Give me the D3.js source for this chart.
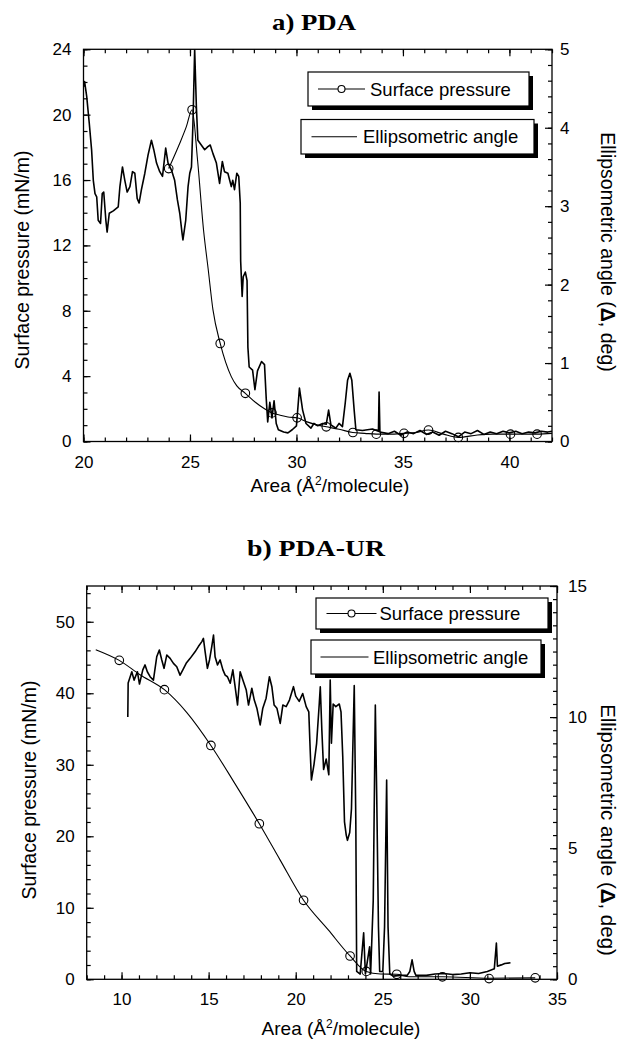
<!DOCTYPE html>
<html><head><meta charset="utf-8">
<script src="https://cdn.jsdelivr.net/npm/d3@7"></script>
<style>
body{margin:0;background:#fff}
svg{display:block}
</style></head><body>
<svg id="chart" width="623" height="1043"></svg>
<script>
// ---------- DATA ----------
const titles = ["a) PDA", "b) PDA-UR"];
const legendLabels = ["Surface pressure", "Ellipsometric angle"];
const xAxisTitle = ["Area (Å", "2", "/molecule)"];
const leftAxisTitle = "Surface pressure (mN/m)";
const rightAxisTitle = ["Ellipsometric angle (", "Δ", ", deg)"];

// panel a) PDA : area (Å²/molecule), pressure (mN/m), ellipsometric angle (deg)
const pdaXTicks = [20, 25, 30, 35, 40];
const pdaLeftTicks = [0, 4, 8, 12, 16, 20, 24];
const pdaRightTicks = [0, 1, 2, 3, 4, 5];
const pdaPressureCurve = [[24.0,16.7],[24.52,18.25],[24.83,19.27],[25.1,20.3],[25.35,17.3],[25.64,12.9],[25.85,10.6],[26.08,8.05],[26.42,6.0],[26.94,3.97],[27.2,3.4],[27.6,2.95],[28.07,2.4],[28.5,2.0],[28.85,1.75],[29.2,1.62],[29.6,1.5],[30.03,1.45],[30.5,1.2],[31.0,1.0],[31.4,0.9],[32.0,0.75],[32.65,0.55],[33.2,0.5],[33.75,0.45],[34.4,0.45],[35.05,0.5],[35.6,0.55],[36.2,0.7],[36.9,0.45],[37.6,0.25],[38.5,0.4],[39.2,0.45],[40.05,0.45],[40.7,0.45],[41.3,0.45],[42.0,0.5]];
const pdaPressureMarkers = [[24.0,16.7],[25.1,20.3],[26.42,6.0],[27.6,2.95],[28.85,1.75],[30.03,1.45],[31.4,0.9],[32.65,0.55],[33.75,0.45],[35.05,0.5],[36.2,0.7],[37.6,0.25],[40.05,0.45],[41.3,0.45]];
const pdaEllipso = [[20.0,4.52],[20.05,4.59],[20.15,4.40],[20.27,4.06],[20.38,3.72],[20.46,3.33],[20.54,3.16],[20.62,3.12],[20.69,2.82],[20.8,2.78],[20.88,3.16],[20.95,3.18],[21.05,2.82],[21.11,2.67],[21.21,2.91],[21.4,2.94],[21.63,2.99],[21.71,3.25],[21.83,3.50],[21.94,3.33],[22.05,3.18],[22.18,3.25],[22.3,3.44],[22.41,3.42],[22.52,3.10],[22.61,3.04],[22.72,3.21],[22.88,3.42],[23.03,3.65],[23.19,3.84],[23.3,3.72],[23.43,3.55],[23.58,3.44],[23.71,3.38],[23.86,3.74],[23.97,3.55],[24.13,3.46],[24.28,3.33],[24.41,3.08],[24.52,2.91],[24.63,2.65],[24.67,2.57],[24.8,2.82],[24.91,3.25],[24.99,3.42],[25.07,3.50],[25.14,4.06],[25.22,5.0],[25.3,4.27],[25.37,3.84],[25.53,3.78],[25.69,3.72],[25.84,3.76],[25.95,3.78],[26.08,3.67],[26.24,3.55],[26.39,3.29],[26.52,3.57],[26.62,3.44],[26.78,3.42],[26.94,3.25],[27.01,3.33],[27.09,3.21],[27.2,3.42],[27.29,3.38],[27.36,3.04],[27.38,2.3],[27.45,1.85],[27.5,2.1],[27.6,2.16],[27.68,2.05],[27.72,1.2],[27.78,0.95],[27.94,0.91],[28.05,0.66],[28.17,0.9],[28.36,1.02],[28.5,0.98],[28.58,0.55],[28.65,0.25],[28.75,0.5],[28.85,0.3],[28.95,0.52],[29.05,0.23],[29.15,0.15],[29.4,0.12],[29.6,0.11],[29.8,0.15],[30.0,0.2],[30.14,0.68],[30.29,0.40],[30.45,0.23],[30.68,0.17],[30.82,0.23],[31.0,0.2],[31.23,0.23],[31.4,0.22],[31.51,0.40],[31.62,0.21],[31.85,0.17],[32.0,0.23],[32.16,0.19],[32.29,0.49],[32.4,0.78],[32.51,0.87],[32.6,0.78],[32.71,0.40],[32.79,0.15],[33.1,0.14],[33.57,0.16],[33.85,0.13],[33.88,0.63],[33.92,0.12],[34.3,0.1],[34.6,0.13],[34.9,0.08],[35.2,0.12],[35.5,0.1],[35.8,0.14],[36.1,0.09],[36.4,0.12],[36.7,0.08],[37.0,0.13],[37.3,0.1],[37.6,0.06],[37.9,0.12],[38.2,0.1],[38.5,0.14],[38.8,0.09],[39.1,0.12],[39.4,0.1],[39.7,0.13],[40.0,0.11],[40.3,0.13],[40.6,0.1],[40.9,0.12],[41.2,0.11],[41.5,0.13],[41.8,0.12],[42.0,0.13]];

// panel b) PDA-UR
const urXTicks = [10, 15, 20, 25, 30, 35];
const urLeftTicks = [0, 10, 20, 30, 40, 50];
const urRightTicks = [0, 5, 10, 15];
const urPressureCurve = [[8.52,46.1],[9.87,44.6],[11.06,42.6],[12.46,40.5],[13.75,37.3],[15.13,32.7],[16.5,27.4],[17.91,21.75],[19.1,16.7],[20.45,11.05],[21.87,6.9],[23.12,3.26],[24.05,1.1],[24.86,0.75],[25.8,0.7],[26.5,0.35],[28.42,0.35],[31.1,0.15],[33.75,0.2]];
const urPressureMarkers = [[9.87,44.6],[12.46,40.5],[15.13,32.7],[17.91,21.75],[20.45,11.05],[23.12,3.26],[24.05,1.1],[25.8,0.7],[28.42,0.35],[31.1,0.1],[33.75,0.2]];
const urEllipso = [[10.36,10.0],[10.38,11.3],[10.59,11.73],[10.72,11.41],[10.91,11.73],[11.03,11.26],[11.22,11.8],[11.35,11.99],[11.48,11.73],[11.64,11.54],[11.83,11.41],[12.02,12.3],[12.17,12.56],[12.31,12.18],[12.44,11.86],[12.6,12.37],[12.79,12.24],[12.98,12.05],[13.17,11.92],[13.36,11.6],[13.52,11.8],[13.71,12.05],[13.94,12.24],[14.22,12.49],[14.41,12.69],[14.61,12.88],[14.7,13.0],[14.8,12.49],[14.93,11.86],[15.05,12.18],[15.18,12.69],[15.28,13.13],[15.37,12.3],[15.51,11.99],[15.66,12.18],[15.82,11.8],[15.95,11.6],[16.08,11.54],[16.24,11.29],[16.39,11.8],[16.52,11.16],[16.66,10.46],[16.81,11.73],[16.97,11.41],[17.16,11.03],[17.29,10.46],[17.48,11.1],[17.62,10.65],[17.77,10.34],[17.96,9.7],[18.11,10.34],[18.3,10.72],[18.49,11.54],[18.63,11.16],[18.76,10.46],[18.92,10.34],[19.11,9.76],[19.26,10.46],[19.45,10.4],[19.64,10.65],[19.87,11.16],[20.0,10.8],[20.2,10.6],[20.4,10.9],[20.6,10.4],[20.75,10.2],[20.83,8.75],[20.9,7.6],[21.05,8.2],[21.2,9.0],[21.35,10.5],[21.41,11.16],[21.5,9.5],[21.6,8.0],[21.75,8.4],[21.9,7.8],[21.98,11.41],[22.05,9.0],[22.15,10.5],[22.3,10.4],[22.5,10.5],[22.6,10.2],[22.7,8.5],[22.8,6.0],[22.9,5.5],[22.97,5.3],[23.1,5.6],[23.2,6.5],[23.36,11.2],[23.45,6.0],[23.5,0.3],[23.7,0.2],[23.9,1.77],[24.0,0.2],[24.24,1.24],[24.3,0.2],[24.45,3.0],[24.57,10.46],[24.65,7.0],[24.75,2.0],[24.82,0.3],[25.0,0.3],[25.1,2.0],[25.22,7.6],[25.3,2.0],[25.4,0.2],[25.6,0.12],[26.0,0.15],[26.4,0.15],[26.55,0.3],[26.68,0.74],[26.8,0.3],[26.9,0.15],[27.5,0.15],[28.0,0.2],[28.5,0.22],[29.0,0.18],[29.5,0.2],[30.0,0.25],[30.5,0.22],[31.0,0.3],[31.4,0.4],[31.52,1.38],[31.58,0.5],[31.8,0.55],[32.0,0.6],[32.33,0.63]];

// ---------- DRAW ----------
const svg = d3.select("#chart");
const SANS = "'Liberation Sans', Arial, sans-serif";
const SERIF = "'Liberation Serif', 'Times New Roman', serif";

function panel(cfg, idx) {
  const x = d3.scaleLinear().domain(cfg.xDomain).range([cfg.left, cfg.right]);
  const yL = d3.scaleLinear().domain(cfg.yLDomain).range([cfg.bottom, cfg.top]);
  const yR = d3.scaleLinear().domain(cfg.yRDomain).range([cfg.bottom, cfg.top]);
  const g = svg.append("g");

  g.append("clipPath").attr("id", "clip" + idx).append("rect")
    .attr("x", cfg.left).attr("y", cfg.top)
    .attr("width", cfg.right - cfg.left).attr("height", cfg.bottom - cfg.top);

  // title (horizontally stretched bold serif, as in the original)
  g.append("text").attr("x", cfg.titleX).attr("y", cfg.titleY)
    .attr("text-anchor", "middle").attr("font-family", SERIF)
    .attr("font-weight", "bold").attr("font-size", 23)
    .attr("textLength", cfg.titleW).attr("lengthAdjust", "spacingAndGlyphs")
    .text(cfg.title);

  const styleAxis = sel => {
    sel.select(".domain").remove();
    sel.selectAll(".tick line").attr("stroke", "#000").attr("stroke-width", 1.2);
    sel.selectAll(".tick text").attr("font-family", SANS).attr("font-size", 17).attr("fill", "#000");
  };
  const range = (d, step) => d3.range(d[0], d[1] + 1e-9, step);

  // minor ticks
  g.append("g").attr("transform", `translate(0,${cfg.bottom})`)
    .call(d3.axisBottom(x).tickValues(range(cfg.xDomain, cfg.xMinor)).tickSizeInner(-4).tickSizeOuter(0).tickFormat(""))
    .call(styleAxis);
  g.append("g").attr("transform", `translate(0,${cfg.top})`)
    .call(d3.axisTop(x).tickValues(range(cfg.xDomain, cfg.xMinor)).tickSizeInner(-4).tickSizeOuter(0).tickFormat(""))
    .call(styleAxis);
  g.append("g").attr("transform", `translate(${cfg.left},0)`)
    .call(d3.axisLeft(yL).tickValues(range(cfg.yLDomain, cfg.yLMinor)).tickSizeInner(-4).tickSizeOuter(0).tickFormat(""))
    .call(styleAxis);
  g.append("g").attr("transform", `translate(${cfg.right},0)`)
    .call(d3.axisRight(yR).tickValues(range(cfg.yRDomain, cfg.yRMinor)).tickSizeInner(-4).tickSizeOuter(0).tickFormat(""))
    .call(styleAxis);

  // major ticks + labels
  g.append("g").attr("transform", `translate(0,${cfg.bottom})`)
    .call(d3.axisBottom(x).tickValues(cfg.xTicks).tickSizeInner(-7).tickSizeOuter(0).tickPadding(cfg.xPad).tickFormat(d3.format("d")))
    .call(styleAxis);
  g.append("g").attr("transform", `translate(0,${cfg.top})`)
    .call(d3.axisTop(x).tickValues(cfg.xTicks).tickSizeInner(-7).tickSizeOuter(0).tickFormat(""))
    .call(styleAxis);
  g.append("g").attr("transform", `translate(${cfg.left},0)`)
    .call(d3.axisLeft(yL).tickValues(cfg.yLTicks).tickSizeInner(-7).tickSizeOuter(0).tickPadding(cfg.lPad).tickFormat(d3.format("d")))
    .call(styleAxis);
  g.append("g").attr("transform", `translate(${cfg.right},0)`)
    .call(d3.axisRight(yR).tickValues(cfg.yRTicks).tickSizeInner(-7).tickSizeOuter(0).tickPadding(cfg.rPad).tickFormat(d3.format("d")))
    .call(styleAxis);

  // frame
  g.append("rect").attr("x", cfg.left).attr("y", cfg.top)
    .attr("width", cfg.right - cfg.left).attr("height", cfg.bottom - cfg.top)
    .attr("fill", "none").attr("stroke", "#000").attr("stroke-width", 1.3);

  // ellipsometric trace (right axis)
  g.append("path").datum(cfg.ellipso)
    .attr("clip-path", `url(#clip${idx})`)
    .attr("fill", "none").attr("stroke", "#000").attr("stroke-width", 1.6)
    .attr("stroke-linejoin", "round")
    .attr("d", d3.line().x(d => x(d[0])).y(d => yR(d[1])));

  // surface pressure curve (left axis)
  g.append("path").datum(cfg.pressure)
    .attr("clip-path", `url(#clip${idx})`)
    .attr("fill", "none").attr("stroke", "#000").attr("stroke-width", 1.1)
    .attr("d", d3.line().x(d => x(d[0])).y(d => yL(d[1])).curve(d3.curveMonotoneX));
  g.append("g").selectAll("circle").data(cfg.markers).join("circle")
    .attr("cx", d => x(d[0])).attr("cy", d => yL(d[1])).attr("r", 4.3)
    .attr("fill", "none").attr("stroke", "#000").attr("stroke-width", 1.1);

  // axis titles
  const xt = g.append("text").attr("x", cfg.xTitleX).attr("y", cfg.xTitleY)
    .attr("text-anchor", "middle").attr("font-family", SANS).attr("font-size", 19);
  xt.append("tspan").text(xAxisTitle[0]);
  xt.append("tspan").attr("font-size", 12).attr("dy", -7).text(xAxisTitle[1]);
  xt.append("tspan").attr("dy", 7).text(xAxisTitle[2]);

  g.append("text").attr("transform", `translate(${cfg.lTitleX},${cfg.lTitleY}) rotate(-90)`)
    .attr("text-anchor", "middle").attr("font-family", SANS).attr("font-size", 19.5)
    .text(leftAxisTitle);

  const rt = g.append("text").attr("transform", `translate(${cfg.rTitleX},${cfg.rTitleY}) rotate(90)`)
    .attr("text-anchor", "middle").attr("font-family", SANS).attr("font-size", cfg.rTitleSize);
  rt.append("tspan").text(rightAxisTitle[0]);
  rt.append("tspan").attr("font-weight", "bold").text(rightAxisTitle[1]);
  rt.append("tspan").text(rightAxisTitle[2]);

  // legend boxes
  cfg.legend.forEach((b, i) => {
    const lg = g.append("g");
    lg.append("rect").attr("x", b.x + 4).attr("y", b.y + 4).attr("width", b.w).attr("height", b.h).attr("fill", "#000");
    lg.append("rect").attr("x", b.x).attr("y", b.y).attr("width", b.w).attr("height", b.h)
      .attr("fill", "#fff").attr("stroke", "#000").attr("stroke-width", 1.2);
    const cy = b.y + b.h / 2;
    lg.append("line").attr("x1", b.lx1).attr("x2", b.lx2).attr("y1", cy).attr("y2", cy)
      .attr("stroke", "#000").attr("stroke-width", 1.1);
    if (i === 0) {
      lg.append("circle").attr("cx", (b.lx1 + b.lx2) / 2).attr("cy", cy).attr("r", 3.5)
        .attr("fill", "#fff").attr("stroke", "#000").attr("stroke-width", 1.1);
    }
    lg.append("text").attr("x", b.tx).attr("y", cy + 6.5)
      .attr("font-family", SANS).attr("font-size", 18.5).text(legendLabels[i]);
  });
}

panel({
  title: titles[0], titleX: 314, titleY: 30, titleW: 84,
  left: 83.5, right: 552, top: 49.3, bottom: 441.5,
  xDomain: [20, 42], yLDomain: [0, 24], yRDomain: [0, 5],
  xTicks: pdaXTicks, yLTicks: pdaLeftTicks, yRTicks: pdaRightTicks,
  xMinor: 1, yLMinor: 1, yRMinor: 0.2,
  xPad: 14, lPad: 12, rPad: 8,
  pressure: pdaPressureCurve, markers: pdaPressureMarkers, ellipso: pdaEllipso,
  xTitleX: 330, xTitleY: 492, lTitleX: 29, lTitleY: 260, rTitleX: 601, rTitleY: 252, rTitleSize: 19.5,
  legend: [
    {x: 308, y: 72, w: 221, h: 34, lx1: 318, lx2: 365, tx: 370},
    {x: 301, y: 119.5, w: 233, h: 34.5, lx1: 311.5, lx2: 357, tx: 363}
  ]
}, 0);

panel({
  title: titles[1], titleX: 316, titleY: 556, titleW: 138,
  left: 86.7, right: 557, top: 586, bottom: 979.3,
  xDomain: [8, 35], yLDomain: [0, 55], yRDomain: [0, 15],
  xTicks: urXTicks, yLTicks: urLeftTicks, yRTicks: urRightTicks,
  xMinor: 1, yLMinor: 2, yRMinor: 0.5,
  xPad: 14, lPad: 12, rPad: 11,
  pressure: urPressureCurve, markers: urPressureMarkers, ellipso: urEllipso,
  xTitleX: 341, xTitleY: 1035, lTitleX: 36, lTitleY: 790, rTitleX: 601, rTitleY: 830, rTitleSize: 20.5,
  legend: [
    {x: 316, y: 598, w: 232, h: 31, lx1: 326.5, lx2: 376.5, tx: 379.5},
    {x: 311, y: 640, w: 230, h: 34, lx1: 320.5, lx2: 368.5, tx: 373}
  ]
}, 1);
</script>
</body></html>
